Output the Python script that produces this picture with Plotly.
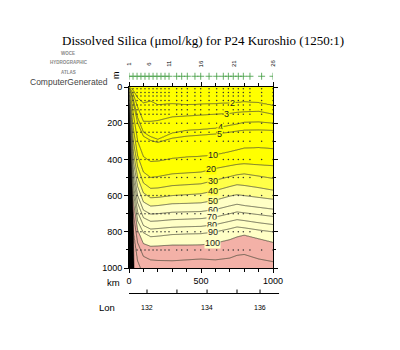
import numpy as np
import plotly.graph_objects as go

# ---------------- data ----------------
station_km = [0, 28, 56, 83, 111, 139, 167, 194, 222, 250, 278, 331, 366, 405, 458,
              498, 556, 609, 655, 690, 724, 759, 794, 840, 921, 1000]
label_stations = [1, 6, 11, 16, 21, 26]

section_km = [0, 15, 30, 60, 100, 150, 200, 300, 400, 500, 600, 700, 750, 800, 900, 1000]
levels = [2, 3, 4, 5, 10, 20, 30, 40, 50, 60, 70, 80, 90, 100, 110, 120]
iso_2 = [2, 8, 20, 60, 88, 78, 98, 92, 98, 95, 92, 89, 86, 82, 87, 102]
iso_3 = [4, 18, 40, 110, 190, 190, 185, 165, 160, 155, 150, 146, 140, 137, 134, 150]
iso_4 = [6, 30, 70, 170, 250, 275, 290, 255, 240, 235, 228, 212, 205, 195, 193, 200]
iso_5 = [8, 40, 90, 200, 272, 295, 306, 283, 272, 266, 260, 250, 244, 239, 238, 240]
iso_10 = [15, 70, 150, 300, 385, 412, 410, 395, 387, 383, 375, 358, 348, 338, 335, 341]
iso_20 = [25, 110, 230, 380, 470, 500, 495, 480, 475, 470, 450, 435, 428, 424, 430, 435]
iso_30 = [35, 150, 300, 440, 530, 560, 558, 545, 540, 535, 515, 495, 485, 480, 492, 505]
iso_40 = [45, 190, 360, 500, 585, 612, 610, 600, 595, 590, 572, 550, 540, 544, 556, 570]
iso_50 = [55, 230, 410, 550, 635, 658, 655, 645, 643, 640, 625, 603, 595, 600, 610, 620]
iso_60 = [65, 270, 460, 600, 680, 702, 700, 692, 690, 688, 677, 657, 648, 655, 665, 675]
iso_70 = [75, 310, 500, 640, 722, 742, 740, 733, 730, 727, 718, 700, 690, 695, 705, 715]
iso_80 = [85, 350, 540, 690, 765, 785, 782, 775, 772, 770, 760, 742, 733, 738, 750, 760]
iso_90 = [95, 400, 580, 740, 805, 827, 824, 815, 812, 810, 800, 783, 773, 778, 790, 800]
iso_100 = [110, 450, 628, 790, 865, 880, 878, 873, 873, 872, 862, 843, 828, 818, 838, 858]
iso_110 = [130, 520, 700, 860, 935, 955, 958, 960, 955, 950, 955, 945, 930, 925, 950, 965]
iso_120 = [160, 600, 790, 960, 1040, 1060, 1060, 1060, 1060, 1060, 1060, 1060, 1060, 1060, 1060, 1060]
surface_value = 1.5
deep_value = 130

label_km = [722, 680, 632, 625, 583, 572, 583, 583, 583, 583, 578, 578, 583, 583]
label_levels = [2, 3, 4, 5, 10, 20, 30, 40, 50, 60, 70, 80, 90, 100]

bottom_km = [0, 5, 12, 20, 28, 35]
bottom_depth = [90, 200, 380, 520, 700, 1000]

sample_depths = [10, 30, 50, 75, 100, 125, 150, 200, 250, 300, 400, 500, 600, 700, 800, 900]

lon_axis_km = [0, 1042]
lon_tick_km = [125, 333, 542, 750, 910]
lon_tick_text = ["132", "", "134", "", "136"]

# ---------------- build field ----------------
isos = [iso_2, iso_3, iso_4, iso_5, iso_10, iso_20, iso_30, iso_40, iso_50, iso_60,
        iso_70, iso_80, iso_90, iso_100, iso_110, iso_120]
xg = np.arange(0, 1001, 4.0)
dg = np.arange(0, 1001, 4.0)
Z = np.zeros((len(dg), len(xg)))
for j, xv in enumerate(xg):
    ds = [np.interp(xv, section_km, iso) for iso in isos]
    xp = [-1.0] + ds + [1200.0]
    fp = [surface_value] + levels + [deep_value]
    Z[:, j] = np.interp(dg, xp, fp)

W = 400
H = 350
def px(v):
    return v / W
def py(v):
    return 1 - v / H

# km -> paper x along the lon axis (same scale as the km axis)
X0, X1 = 129.0, 273.0
def km_paper(k):
    return px(X0 + (X1 - X0) * k / 1000.0)

C_Y1, C_Y2, C_Y3, C_Y4, C_CREAM, C_PINK = ("#ffff00", "#ffff2a", "#ffff48",
                                           "#ffff8c", "#ffffc6", "#f3b1a7")
colorscale = [
    [0.0, C_Y1], [0.15, C_Y1],
    [0.15, C_Y2], [0.25, C_Y2],
    [0.25, C_Y3], [0.35, C_Y3],
    [0.35, C_Y4], [0.45, C_Y4],
    [0.45, C_CREAM], [0.95, C_CREAM],
    [0.95, C_PINK], [1.0, C_PINK],
]

def band_color(v):
    if v < 20:
        return C_Y1
    if v < 30:
        return C_Y2
    if v < 40:
        return C_Y3
    if v < 50:
        return C_Y4
    if v < 100:
        return C_CREAM
    return C_PINK

fig = go.Figure()
fig.add_trace(go.Contour(
    x=xg, y=dg, z=Z, colorscale=colorscale, showscale=False,
    contours=dict(start=10, end=100, size=10, coloring="fill", showlines=False),
    line=dict(width=0), hoverinfo="skip"))
fig.add_trace(go.Contour(
    x=xg, y=dg, z=Z, showscale=False,
    contours=dict(start=2, end=5, size=1, coloring="none"),
    line=dict(color="#4a4a3a", width=0.8), hoverinfo="skip"))
fig.add_trace(go.Contour(
    x=xg, y=dg, z=Z, showscale=False,
    contours=dict(start=10, end=120, size=10, coloring="none"),
    line=dict(color="#4a4a3a", width=0.8), hoverinfo="skip"))

# sample dots
dx, dy = [], []
for k in station_km:
    bd = np.interp(k, bottom_km, bottom_depth, right=1e9)
    for d in sample_depths:
        if d < bd - 10:
            dx.append(k)
            dy.append(d)
fig.add_trace(go.Scatter(x=dx, y=dy, mode="markers",
                         marker=dict(size=1.5, color="#333"), hoverinfo="skip"))

# bottom
fig.add_trace(go.Scatter(x=bottom_km + [0], y=bottom_depth + [1000], fill="toself",
                         mode="lines", line=dict(color="black", width=0.5),
                         fillcolor="black", hoverinfo="skip"))

# stations
fig.add_trace(go.Scatter(x=station_km, y=[0.35] * len(station_km), mode="markers",
                         xaxis="x", yaxis="y2",
                         marker=dict(symbol="cross-thin", size=5,
                                     line=dict(color="#3c9a3c", width=0.8)),
                         hoverinfo="skip"))

ann = []
for s in label_stations:
    ann.append(dict(x=station_km[s - 1], y=0.85, xref="x", yref="y2", text=str(s),
                    showarrow=False, textangle=-90, xanchor="center", yanchor="middle",
                    font=dict(size=6, family="Liberation Sans", color="black")))
for lk, lv in zip(label_km, label_levels):
    dep = np.interp(lk, section_km, isos[levels.index(lv)])
    ann.append(dict(x=lk, y=dep, xref="x", yref="y", text=str(lv), showarrow=False,
                    xanchor="center", yanchor="middle", bgcolor=band_color(lv - 0.5),
                    borderpad=0,
                    font=dict(size=9, family="Liberation Sans", color="#222")))
for tk, tt in zip(lon_tick_km, lon_tick_text):
    if tt:
        ann.append(dict(x=km_paper(tk), y=py(307), xref="paper", yref="paper", text=tt,
                        showarrow=False, xanchor="center", yanchor="middle",
                        font=dict(size=7, family="Liberation Sans", color="black")))

# lon axis line and ticks
LON_Y = 293.5
shapes = [dict(type="line", xref="paper", yref="paper", x0=km_paper(lon_axis_km[0]),
               x1=km_paper(lon_axis_km[1]), y0=py(LON_Y), y1=py(LON_Y),
               layer="above", line=dict(color="black", width=1.2))]
for tk in lon_tick_km:
    shapes.append(dict(type="line", xref="paper", yref="paper", x0=km_paper(tk),
                       x1=km_paper(tk), y0=py(LON_Y), y1=py(LON_Y - 4), layer="above",
                       line=dict(color="black", width=1)))

def pann(x, y, text, size, color="black", family="Liberation Sans", angle=0):
    return dict(x=px(x), y=py(y), xref="paper", yref="paper", text=text,
                showarrow=False, xanchor="center", yanchor="middle", textangle=angle,
                font=dict(size=size, family=family, color=color))

ann += [
    pann(203, 40, "Dissolved Silica (\u03bcmol/kg) for P24 Kuroshio (1250:1)", 13,
         family="Liberation Serif"),
    pann(68, 54, "<b>WOCE</b>", 4.5, color="#888"),
    pann(69, 63, "<b>HYDROGRAPHIC</b>", 4.5, color="#888"),
    pann(68, 72, "<b>ATLAS</b>", 4.5, color="#888"),
    pann(69, 82, "ComputerGenerated", 8.5, color="#444"),
    pann(116, 75, "m", 9, angle=-90),
    pann(114, 282, "km", 9.5),
    pann(107, 307, "Lon", 9.5),
]

tickfont = dict(size=9, family="Liberation Sans", color="black")
fig.update_layout(
    width=W, height=H, margin=dict(l=0, r=0, t=0, b=0, autoexpand=False),
    paper_bgcolor="white", plot_bgcolor="rgba(0,0,0,0)", showlegend=False,
    xaxis=dict(domain=[px(X0), px(X1)], range=[0, 1000], tickvals=[0, 500, 1000],
               ticks="outside", ticklen=4, tickcolor="black", showline=True,
               linecolor="black", linewidth=1, mirror="ticks", showgrid=False,
               zeroline=False, tickfont=tickfont, anchor="y", automargin=False,
               minor=dict(dtick=100, ticks="outside", ticklen=3, tickcolor="black")),
    yaxis=dict(domain=[py(268), py(87)], range=[1000, 0],
               tickvals=[0, 200, 400, 600, 800, 1000], ticks="outside", ticklen=4,
               tickcolor="black", showline=True, linecolor="black", linewidth=1,
               mirror="ticks", showgrid=False, zeroline=False, tickfont=tickfont,
               anchor="x", automargin=False,
               minor=dict(dtick=100, ticks="outside", ticklen=2, tickcolor="black")),
    yaxis2=dict(domain=[py(85), py(60)], range=[0, 1], visible=False, anchor="x",
                automargin=False),
    shapes=shapes,
    annotations=ann,
)
fig.write_html("out.html")
